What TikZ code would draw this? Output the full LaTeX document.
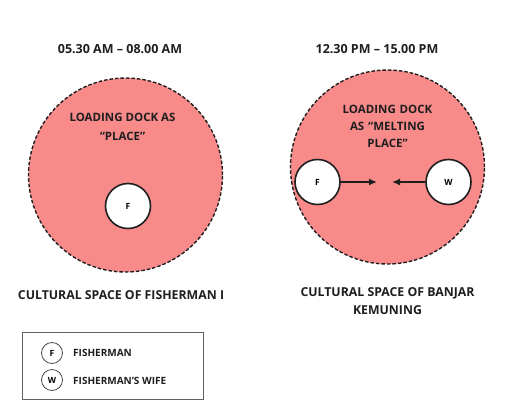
\documentclass[tikz,border=0pt]{standalone}
\usepackage{fontspec}
\setmainfont{Open Sans}
\usetikzlibrary{arrows.meta}
\definecolor{zone}{RGB}{249,138,138}
\definecolor{ink}{RGB}{30,30,30}
\begin{document}
\begin{tikzpicture}[x=1pt,y=-1pt,
  zonec/.style={circle,draw=ink,fill=zone,dashed,dash pattern=on 3.5pt off 2pt,line width=1.4pt,minimum size=194pt,inner sep=0pt},
  actor/.style={circle,draw=ink,fill=white,line width=1.6pt,minimum size=45pt,inner sep=0pt,font=\bfseries\fontsize{8.5}{10}\selectfont},
  legactor/.style={circle,draw=ink!80,fill=white,line width=0.8pt,minimum size=21pt,inner sep=0pt,font=\bfseries\fontsize{8.5}{10}\selectfont},
  lbl/.style={font=\bfseries\fontsize{11.5}{17}\selectfont,text=ink,align=center,inner sep=0pt},
  ttl/.style={lbl,font=\bfseries\fontsize{12.5}{17}\selectfont},
  legtxt/.style={lbl,anchor=west,font=\bfseries\fontsize{10}{12}\selectfont},
  arr/.style={-{Latex[length=8pt,width=7pt]},line width=1.8pt,draw=ink}]
\useasboundingbox (0,0) rectangle (525,405);
% titles
\node[ttl] (t1) at (120,49) {05.30 AM -- 08.00 AM};
\node[ttl] (t2) at (377,49) {12.30 PM -- 15.00 PM};
% zones
\node[zonec] (z1) at (125.5,175) {};
\node[zonec] (z2) at (387.5,167) {};
\node[lbl,font=\bfseries\fontsize{11.5}{19}\selectfont] (p1) at (122.5,126.5) {LOADING DOCK AS\\``PLACE''};
\node[lbl,text width=110pt] (p2) at (387.5,126.5) {LOADING DOCK\\AS ``MELTING\\PLACE''};
% actors
\node[actor] (f1) at (128,206) {F};
\node[actor] (f2) at (317.5,182) {F};
\node[actor] (w2) at (448.5,182) {W};
\coordinate (c1) at (377,182);
\coordinate (c2) at (392,182);
\draw[arr] (f2) -- (c1);
\draw[arr] (w2) -- (c2);
% captions
\node[lbl,font=\bfseries\fontsize{12.3}{18}\selectfont] (cap1) at (121,295) {CULTURAL SPACE OF FISHERMAN I};
\node[lbl,font=\bfseries\fontsize{12.3}{18}\selectfont] (cap2) at (387.5,301) {CULTURAL SPACE OF BANJAR\\KEMUNING};
% legend
\node[draw=ink!70,line width=0.8pt,minimum width=181pt,minimum height=67pt,inner sep=0pt] (leg) at (112.5,365.5) {};
\node[legactor] (lf) at (52,353) {F};
\node[legactor] (lw) at (52,380) {W};
\node[legtxt] (lft) at (73,353) {FISHERMAN};
\node[legtxt] (lwt) at (73,381) {FISHERMAN'S WIFE};
\end{tikzpicture}
\end{document}
